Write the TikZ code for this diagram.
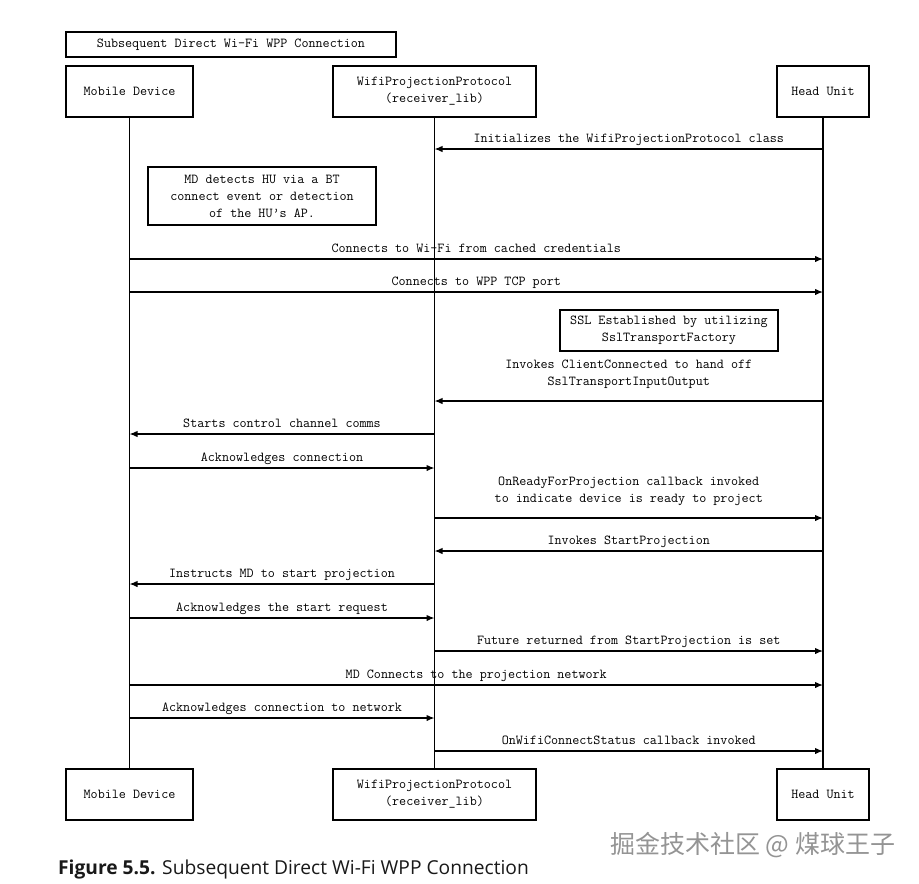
\documentclass[tikz,border=0pt]{standalone}
\usepackage{fontspec}
\newfontfamily\capfont{Open Sans}
\newfontfamily\cjk{Noto Sans CJK SC}
\usetikzlibrary{arrows.meta,calc}
\tikzset{
  box/.style={draw, line width=1.4pt, fill=white, align=center, inner sep=0pt,
    font=\ttfamily\fontsize{13.7pt}{17pt}\selectfont, text=black},
  life/.style={line width=1.3pt},
  msg/.style={line width=1.3pt, -{Latex[length=8pt,width=6.5pt]}},
  lbl/.style={font=\ttfamily\fontsize{13.7pt}{17pt}\selectfont, text=black, inner sep=0pt},
  one/.style={lbl, text height=8pt, text depth=2.5pt, anchor=center},
  two/.style={lbl, align=center, anchor=center}
}
\newcommand\seqmsg[6]{% name, from node, to node, y, label y offset, label
  \coordinate (#1a) at (#2 |- 0,#4);
  \coordinate (#1b) at (#3 |- 0,#4);
  \draw[msg] (#1a) -- (#1b);
  \node[one] (#1l) at ($($(#1a)!0.5!(#1b)$)+(0,#5)$) {#6};
}
\newcommand\seqmsgtwo[6]{% name, from, to, y, label y offset, two-line label
  \coordinate (#1a) at (#2 |- 0,#4);
  \coordinate (#1b) at (#3 |- 0,#4);
  \draw[msg] (#1a) -- (#1b);
  \node[two] (#1l) at ($($(#1a)!0.5!(#1b)$)+(0,#5)$) {#6};
}
\begin{document}
\begin{tikzpicture}[x=1pt,y=-1pt]
\useasboundingbox[fill=white] (0,0) rectangle (919,884);

% title
\node[box, minimum width=330pt, minimum height=25pt] (title) at (231,44.5) {Subsequent Direct Wi-Fi WPP Connection};

% participants top
\node[box, minimum width=127pt, minimum height=51pt] (mdtop) at (129.5,91.5) {Mobile Device};
\node[box, minimum width=203pt, minimum height=51pt] (wpptop) at (434.5,91.5) {WifiProjectionProtocol\\(receiver\_lib)};
\node[box, minimum width=92pt, minimum height=51pt] (hutop) at (823,91.5) {Head Unit};
% participants bottom
\node[box, minimum width=127pt, minimum height=51pt] (mdbot) at (129.5,794.5) {Mobile Device};
\node[box, minimum width=203pt, minimum height=51pt] (wppbot) at (434.5,794.5) {WifiProjectionProtocol\\(receiver\_lib)};
\node[box, minimum width=92pt, minimum height=51pt] (hubot) at (823,794.5) {Head Unit};

% lifelines
\draw[life] (mdtop.south) -- (mdbot.north);
\draw[life] (wpptop.south) -- (wppbot.north);
\draw[life] (hutop.south) -- (hubot.north);

% notes
\node[box, minimum width=228pt, minimum height=58pt] (note1) at (262,196) {MD detects HU via a BT\\connect event or detection\\of the HU’s AP.};
\node[box, minimum width=218pt, minimum height=41pt] (note2) at (669,330.5) {SSL Established by utilizing\\SslTransportFactory};

% messages
\seqmsg{m1}{hutop}{wpptop}{149}{-9.5}{Initializes the WifiProjectionProtocol class}
\seqmsg{m2}{mdtop}{hutop}{259}{-9.5}{Connects to Wi-Fi from cached credentials}
\seqmsg{m3}{mdtop}{hutop}{292}{-9.5}{Connects to WPP TCP port}
\seqmsgtwo{m4}{hutop}{wpptop}{401}{-26.5}{Invokes ClientConnected to hand off\\SslTransportInputOutput}
\seqmsg{m5}{wpptop}{mdtop}{434}{-9.5}{Starts control channel comms}
\seqmsg{m6}{mdtop}{wpptop}{468}{-9.5}{Acknowledges connection}
\seqmsgtwo{m7}{wpptop}{hutop}{518}{-26.5}{OnReadyForProjection callback invoked\\to indicate device is ready to project}
\seqmsg{m8}{hutop}{wpptop}{551}{-9.5}{Invokes StartProjection}
\seqmsg{m9}{wpptop}{mdtop}{584}{-9}{Instructs MD to start projection}
\seqmsg{m10}{mdtop}{wpptop}{618}{-9.5}{Acknowledges the start request}
\seqmsg{m11}{wpptop}{hutop}{651}{-9}{Future returned from StartProjection is set}
\seqmsg{m12}{mdtop}{hutop}{685}{-9.5}{MD Connects to the projection network}
\seqmsg{m13}{mdtop}{wpptop}{718}{-9.5}{Acknowledges connection to network}
\seqmsg{m14}{wpptop}{hutop}{751}{-9}{OnWifiConnectStatus callback invoked}

% watermark
\node[text=black!42, font=\cjk\fontsize{25pt}{27pt}\selectfont, inner sep=0pt, anchor=west] (wm) at (610,845) {掘金技术社区 @ 煤球王子};

% caption
\node[font=\capfont\fontsize{19.2pt}{21pt}\selectfont, inner sep=0pt, anchor=west, text=black!90] (cap) at (58,870) {\textbf{Figure 5.5.} Subsequent Direct Wi-Fi WPP Connection};
\end{tikzpicture}
\end{document}
